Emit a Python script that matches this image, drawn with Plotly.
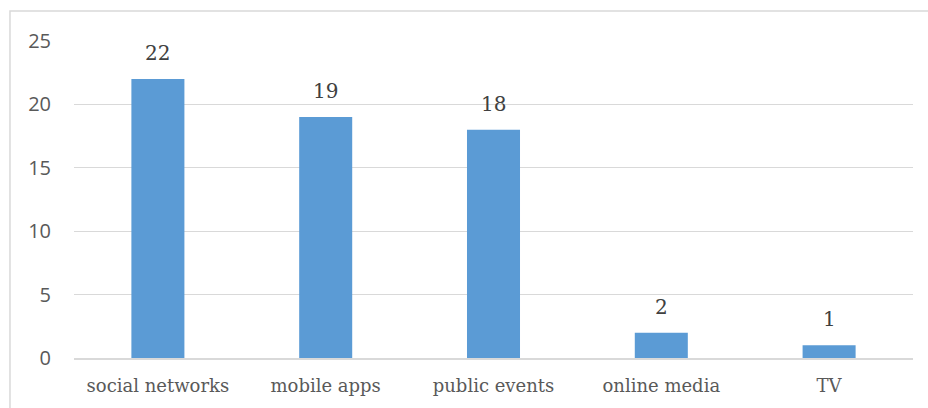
import plotly.graph_objects as go

categories = ["social networks", "mobile apps", "public events", "online media", "TV"]
values = [22, 19, 18, 2, 1]
y_ticks = [0, 5, 10, 15, 20, 25]

BAR = "#5B9BD5"
SERIF = "DejaVu Serif"
SANS = "Open Sans"

fig = go.Figure(go.Bar(x=categories, y=values, marker_color=BAR, marker_line_width=0, width=0.316,
                       hoverinfo="skip"))

for c, v in zip(categories, values):
    fig.add_annotation(x=c, y=v, text=str(v), showarrow=False, yanchor="bottom", yshift=12,
                       font=dict(family=SERIF, size=20, color="#404040"))

fig.add_shape(type="rect", xref="paper", yref="paper", x0=-0.0763, x1=1.03, y0=-0.2, y1=1.0946,
              line=dict(color="#d9d9d9", width=1.5), fillcolor="rgba(0,0,0,0)", layer="below")

fig.update_layout(
    width=928, height=408,
    margin=dict(l=74, r=15, t=41, b=50),
    plot_bgcolor="white", paper_bgcolor="white",
    showlegend=False,
    bargap=0.684,
)
fig.update_xaxes(showgrid=False, showline=True, linecolor="#d9d9d9", linewidth=1.5,
                 ticks="", tickfont=dict(family=SERIF, size=18, color="#595959"), ticklabelstandoff=11)
fig.update_yaxes(range=[0, 25], tickvals=y_ticks, showgrid=True, gridcolor="#d9d9d9", gridwidth=1.2,
                 zeroline=False, showline=False, ticks="",
                 tickfont=dict(family=SANS, size=20, color="#595959"), ticklabelstandoff=22)

fig.write_html("out.html", config={"displayModeBar": False},
               post_script="document.body.style.margin='0';")
